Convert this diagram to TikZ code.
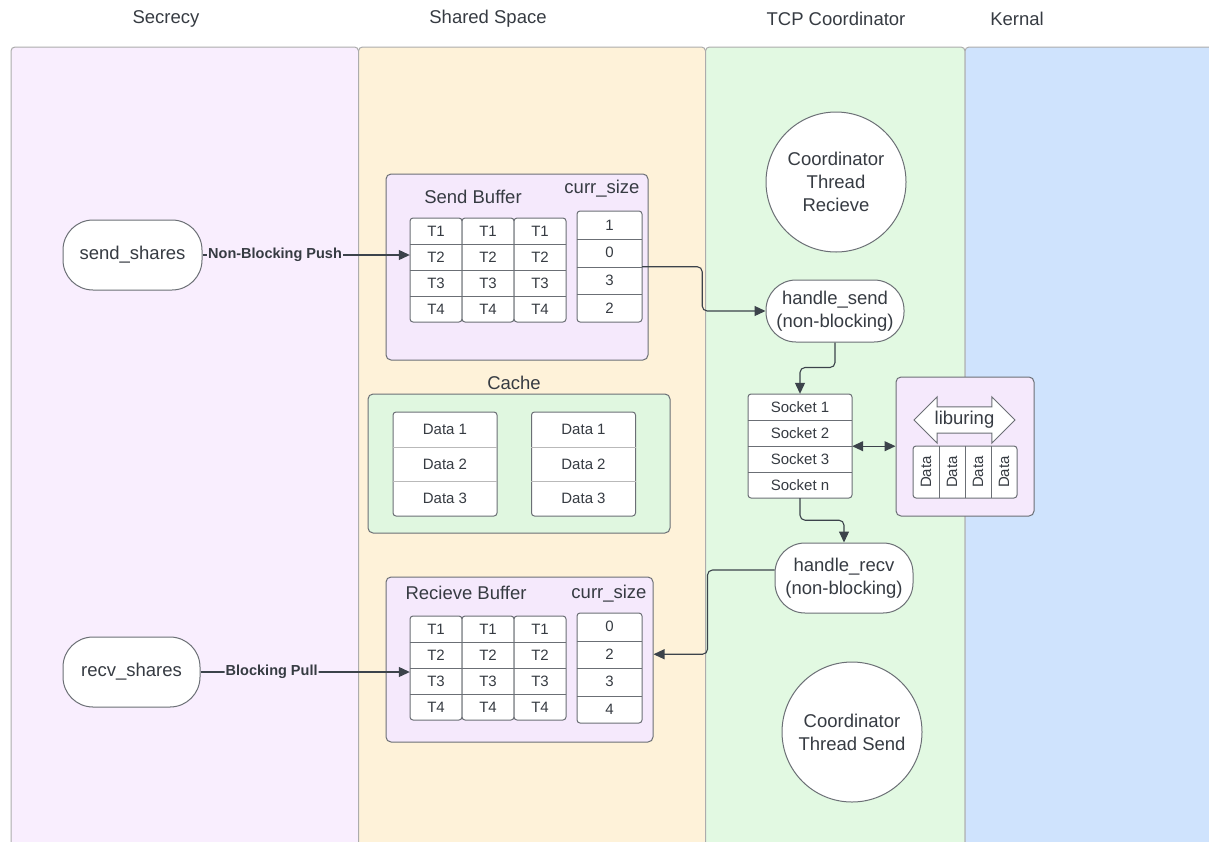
\documentclass[tikz,border=0pt]{standalone}
\usepackage{fontspec}
\setmainfont{Liberation Sans}
\usepackage{xcolor}
\definecolor{SecrecyBg}{HTML}{F9EEFE}
\definecolor{SharedBg}{HTML}{FEF2D9}
\definecolor{CoordBg}{HTML}{E2F9E2}
\definecolor{KernalBg}{HTML}{CFE3FD}
\definecolor{BufferBg}{HTML}{F5E9FC}
\definecolor{CacheBg}{HTML}{E0F7E0}
\definecolor{LineGray}{HTML}{3C434B}
\definecolor{EdgeGray}{HTML}{6B6F75}
\definecolor{TextGray}{HTML}{363B42}
\usetikzlibrary{arrows.meta,positioning,shapes.arrows}

\begin{document}
\begin{tikzpicture}[x=1pt, y=-1pt, >={Triangle[length=11pt,width=10pt]},
  every node/.style={font=\fontsize{18.5}{23}\selectfont, text=TextGray, align=center},
  lane/.style={draw=gray!65, line width=1pt, fill=#1, rounded corners=4pt},
  pill/.style={draw=EdgeGray, line width=1pt, fill=white, rounded corners=30pt, inner sep=0pt},
  box/.style={draw=EdgeGray, line width=1pt, fill=#1, rounded corners=5pt, inner sep=0pt},
  frame/.style={draw=EdgeGray, line width=1pt, fill=white, rounded corners=3pt},
  cell/.style={font=\fontsize{15}{18}\selectfont, inner sep=0pt},
  conn/.style={draw=LineGray, line width=1.1pt, ->, rounded corners=5pt},
  edgelabel/.style={font=\fontsize{14.5}{16}\selectfont\bfseries, inner sep=1pt}]
  \useasboundingbox (0,0) rectangle (1209,841);
  \clip (0,0) rectangle (1209,841);

  % swim lanes
  \foreach \xa/\xb/\col in {11/358.5/SecrecyBg, 358.5/705.5/SharedBg, 705.5/965/CoordBg, 965/1240/KernalBg}
    \draw[lane=\col] (\xa,880) rectangle (\xb,47);
  \node (secrecy) at (166,19) {Secrecy};
  \node (shared) at (488,19) {Shared Space};
  \node (tcp) at (836,19) {TCP Coordinator};
  \node (kernal) at (1017,19) {Kernal};

  % secrecy
  \node[pill, minimum width=139pt, minimum height=70pt] (send) at (132.5,255) {send\_shares};
  \node[pill, minimum width=137pt, minimum height=70pt] (recv) at (131.5,672) {recv\_shares};

  % send buffer
  \node[box=BufferBg, minimum width=262pt, minimum height=186pt] (sbuf) at (517,267) {};
  \node (sbuftitle) at (473,197) {Send Buffer};
  \node (scurr) at (602,189) {curr\_size};
  \foreach \c/\cx in {1/436, 2/488, 3/540} {
    \draw[frame] (\cx-26,218) rectangle (\cx+26,322);
    \foreach \r in {1,...,4}
      \node[cell, minimum width=52pt, minimum height=26pt] (sb-\c-\r) at (\cx,{205+26*\r}) {T\r};
    \foreach \r in {1,2,3}
      \draw[EdgeGray] (sb-\c-\r.south west) -- (sb-\c-\r.south east);
  }
  \draw[frame] (577,211) rectangle (642,322);
  \foreach \r/\v in {1/1, 2/0, 3/3, 4/2}
    \node[cell, minimum width=65pt, minimum height=27.75pt] (sc-\r) at (609.5,{211+27.75*(\r-0.5)}) {\v};
  \foreach \r in {1,2,3}
    \draw[EdgeGray] (sc-\r.south west) -- (sc-\r.south east);

  % cache
  \node (cachetitle) at (514,383) {Cache};
  \node[box=CacheBg, minimum width=302pt, minimum height=139pt] (cache) at (519,463.5) {};
  \foreach \c/\cx in {1/445, 2/583.5} {
    \draw[frame] (\cx-52,412) rectangle (\cx+52,516);
    \foreach \r in {1,2,3}
      \node[cell, minimum width=104pt, minimum height=34.67pt] (ca-\c-\r) at (\cx,{412+34.67*(\r-0.5)}) {Data \r};
    \foreach \r in {1,2}
      \draw[gray!55] (ca-\c-\r.south west) -- (ca-\c-\r.south east);
  }

  % receive buffer
  \node[box=BufferBg, minimum width=267pt, minimum height=165pt] (rbuf) at (519.5,659.5) {};
  \node (rbuftitle) at (466,593) {Recieve Buffer};
  \node (rcurr) at (609,594) {curr\_size};
  \foreach \c/\cx in {1/436, 2/488, 3/540} {
    \draw[frame] (\cx-26,616) rectangle (\cx+26,720);
    \foreach \r in {1,...,4}
      \node[cell, minimum width=52pt, minimum height=26pt] (rb-\c-\r) at (\cx,{603+26*\r}) {T\r};
    \foreach \r in {1,2,3}
      \draw[EdgeGray] (rb-\c-\r.south west) -- (rb-\c-\r.south east);
  }
  \draw[frame] (577,613) rectangle (642,723);
  \foreach \r/\v in {1/0, 2/2, 3/3, 4/4}
    \node[cell, minimum width=65pt, minimum height=27.5pt] (rc-\r) at (609.5,{613+27.5*(\r-0.5)}) {\v};
  \foreach \r in {1,2,3}
    \draw[EdgeGray] (rc-\r.south west) -- (rc-\r.south east);

  % tcp coordinator
  \node[circle, draw=EdgeGray, line width=1pt, fill=white, minimum size=140pt, inner sep=0pt] (threcv) at (836,182) {Coordinator\\Thread\\Recieve};
  \node[circle, draw=EdgeGray, line width=1pt, fill=white, minimum size=140pt, inner sep=0pt] (thsend) at (852,732) {Coordinator\\Thread Send};
  \node[pill, minimum width=138pt, minimum height=62pt] (hsend) at (835,311) {handle\_send\\(non-blocking)};
  \node[pill, minimum width=138pt, minimum height=70pt] (hrecv) at (844,578) {handle\_recv\\(non-blocking)};
  \draw[frame] (748,394) rectangle (852,498);
  \foreach \r/\s in {1/1, 2/2, 3/3, 4/n}
    \node[cell, minimum width=104pt, minimum height=26pt] (sock-\r) at (800,{394+26*(\r-0.5)}) {Socket \s};
  \foreach \r in {1,2,3}
    \draw[EdgeGray] (sock-\r.south west) -- (sock-\r.south east);

  % kernal side
  \node[box=BufferBg, minimum width=138pt, minimum height=139pt] (lbox) at (965,446.5) {};
  \node[double arrow, draw=EdgeGray, line width=1pt, fill=white, double arrow head extend=10pt,
    minimum height=101pt, inner xsep=0pt, inner ysep=4pt] (liburing) at (964.5,420) {liburing};
  \draw[frame] (913,446) rectangle (1017,498);
  \foreach \i/\dx in {1/926, 2/952, 3/978, 4/1004}
    \node[cell, rotate=90, minimum width=52pt, minimum height=26pt] (data-\i) at (\dx,472) {Data};
  \foreach \dx in {939, 965, 991}
    \draw[EdgeGray] (\dx,446) -- (\dx,498);

  % connectors
  \draw[conn] (send) -- node[edgelabel, fill=SecrecyBg, pos=.35] {Non-Blocking Push} (send -| sb-1-2.west);
  \draw[conn] (recv) -- node[edgelabel, fill=SecrecyBg, pos=.34] {Blocking Pull} (recv -| rb-1-3.west);
  \draw[conn] (sc-2.south east) -- ++(60,0) |- (hsend);
  \draw[conn] (hsend.south) -- ++(0,25) -| (sock-1.north);
  \draw[conn] (sock-4.south) -- ++(0,22) -| (hrecv.north);
  \draw[conn] ([yshift=8pt]hrecv.west) -- ++(-67,0) |- (rc-2 -| rbuf.east);
  \draw[conn, <->] (sock-2.south east) -- (sock-2.south east -| lbox.west);
\end{tikzpicture}
\end{document}
